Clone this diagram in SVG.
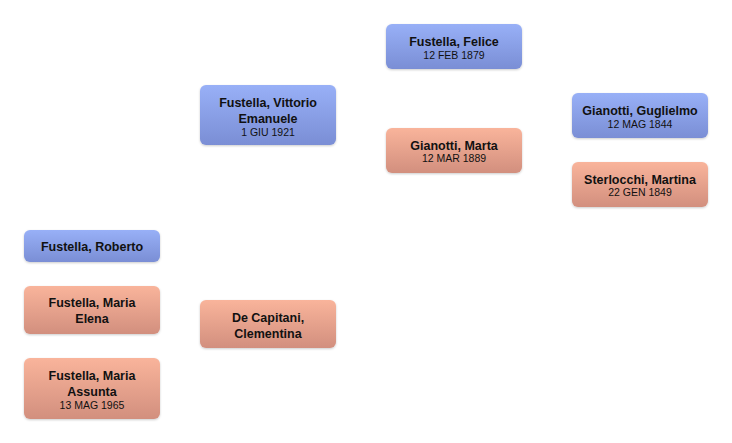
<svg xmlns="http://www.w3.org/2000/svg" width="732" height="443" viewBox="0 0 732 443">
<defs>
<linearGradient id="gm" x1="0" y1="0" x2="0" y2="1"><stop offset="0" stop-color="#98b0f7"/><stop offset="1" stop-color="#7a8ed5"/></linearGradient>
<linearGradient id="gf" x1="0" y1="0" x2="0" y2="1"><stop offset="0" stop-color="#f9b49b"/><stop offset="1" stop-color="#d28f7e"/></linearGradient>
<filter id="sh" x="-10%" y="-10%" width="120%" height="130%"><feDropShadow dx="0" dy="1" stdDeviation="1" flood-color="#000" flood-opacity="0.2"/></filter>
</defs>
<style>
.m{fill:url(#gm);filter:url(#sh)}
.f{fill:url(#gf);filter:url(#sh)}
.n{font-family:"Liberation Sans",Arial,sans-serif;font-size:12.5px;font-weight:bold;fill:#111;text-anchor:middle}
.d{font-family:"Liberation Sans",Arial,sans-serif;font-size:10.5px;fill:#111;text-anchor:middle}
</style>
<rect width="732" height="443" fill="#fff"/>
<g id="connectors"></g>
<g id="roberto"><rect class="m" x="24" y="230" width="136" height="32" rx="6"/><text class="n" x="92" y="250.5">Fustella, Roberto</text></g>
<g id="mariaelena"><rect class="f" x="24" y="286" width="136" height="48" rx="6"/><text class="n" x="92" y="306.5">Fustella, Maria</text><text class="n" x="92" y="322.5">Elena</text></g>
<g id="mariaassunta"><rect class="f" x="24" y="358" width="136" height="61" rx="6"/><text class="n" x="92" y="379.5">Fustella, Maria</text><text class="n" x="92" y="395.5">Assunta</text><text class="d" x="92" y="408.5">13 MAG 1965</text></g>
<g id="vittorio"><rect class="m" x="200" y="85" width="136" height="60" rx="6"/><text class="n" x="268" y="106.5">Fustella, Vittorio</text><text class="n" x="268" y="122.5">Emanuele</text><text class="d" x="268" y="135.5">1 GIU 1921</text></g>
<g id="clementina"><rect class="f" x="200" y="300" width="136" height="48" rx="6"/><text class="n" x="268" y="321.5">De Capitani,</text><text class="n" x="268" y="337.5">Clementina</text></g>
<g id="felice"><rect class="m" x="386" y="24" width="136" height="45" rx="6"/><text class="n" x="454" y="45.5">Fustella, Felice</text><text class="d" x="454" y="58.5">12 FEB 1879</text></g>
<g id="marta"><rect class="f" x="386" y="128" width="136" height="45" rx="6"/><text class="n" x="454" y="149.5">Gianotti, Marta</text><text class="d" x="454" y="161.5">12 MAR 1889</text></g>
<g id="guglielmo"><rect class="m" x="572" y="93" width="136" height="45" rx="6"/><text class="n" x="640" y="114.5">Gianotti, Guglielmo</text><text class="d" x="640" y="127.5">12 MAG 1844</text></g>
<g id="martina"><rect class="f" x="572" y="162" width="136" height="45" rx="6"/><text class="n" x="640" y="183.5">Sterlocchi, Martina</text><text class="d" x="640" y="195.5">22 GEN 1849</text></g>
</svg>
